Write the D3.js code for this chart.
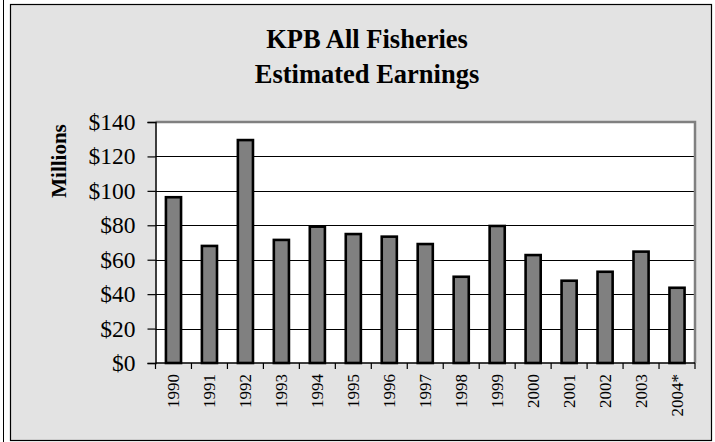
<!DOCTYPE html>
<html><head><meta charset="utf-8">
<script src="https://cdn.jsdelivr.net/npm/d3@7"></script>
<style>html,body{margin:0;padding:0;background:#fff;}svg{display:block;}</style>
</head><body>
<script>
const years = ["1990","1991","1992","1993","1994","1995","1996","1997","1998","1999","2000","2001","2002","2003","2004*"];
const earnings = [96.3,68,129.5,71.5,79.2,74.9,73.4,69.1,50.1,79.6,62.7,47.8,53.0,64.7,43.7];
const yTicks = [0,20,40,60,80,100,120,140];
const titleLines = ["KPB All Fisheries","Estimated Earnings"];
const yAxisLabel = "Millions";

const W=715,H=442;
const serif="'Liberation Serif','Times New Roman',serif";
const svg=d3.select("body").append("svg").attr("width",W).attr("height",H);
svg.append("line").attr("x1",3.5).attr("x2",3.5).attr("y1",0).attr("y2",H).attr("stroke","#000");
svg.append("rect").attr("x",10.5).attr("y",4.5).attr("width",701).attr("height",436)
  .attr("fill","#e3e3e3").attr("stroke","#000").attr("stroke-width",1.2);

const m={l:155.5,r:695,t:122,b:363};
const x=d3.scaleBand().domain(years).range([m.l,m.r]).paddingInner(0.58).paddingOuter(0.29);
const y=d3.scaleLinear().domain([0,140]).range([m.b,m.t]);

svg.append("rect").attr("x",m.l).attr("y",m.t).attr("width",m.r-m.l).attr("height",m.b-m.t).attr("fill","#fff");
svg.append("g").selectAll("line").data(yTicks.filter(d=>d>0&&d<140)).join("line")
  .attr("x1",m.l).attr("x2",m.r).attr("y1",d=>Math.round(y(d))+0.5).attr("y2",d=>Math.round(y(d))+0.5)
  .attr("stroke","#000").attr("stroke-width",1);
svg.append("path").attr("d",`M${m.l},${m.t}H${m.r}V${m.b}`).attr("fill","none").attr("stroke","#808080").attr("stroke-width",2.5);

svg.append("g").selectAll("rect").data(earnings).join("rect")
  .attr("x",(d,i)=>x(years[i])).attr("width",x.bandwidth())
  .attr("y",d=>y(d)).attr("height",d=>y(0)-y(d))
  .attr("fill","#808080").attr("stroke","#000").attr("stroke-width",2.6);

const ya=d3.axisLeft(y).tickValues(yTicks).tickSize(8).tickPadding(12).tickFormat(d=>"$"+d);
const gy=svg.append("g").attr("transform",`translate(${m.l},0)`).call(ya);
gy.select(".domain").attr("stroke","#000").attr("stroke-width",1.5);
gy.selectAll(".tick line").attr("stroke","#000").attr("stroke-width",1.2);
gy.selectAll("text").attr("font-family",serif).attr("font-size",23.5).attr("fill","#000");

const bounds=d3.range(years.length+1).map(i=>m.l+i*(m.r-m.l)/years.length);
svg.append("line").attr("x1",m.l).attr("x2",m.r).attr("y1",m.b).attr("y2",m.b).attr("stroke","#000").attr("stroke-width",1.5);
svg.append("g").selectAll("line").data(bounds).join("line")
  .attr("x1",d=>d).attr("x2",d=>d).attr("y1",m.b).attr("y2",m.b+6).attr("stroke","#000").attr("stroke-width",1.2);
svg.append("g").selectAll("text").data(years).join("text")
  .attr("transform",d=>`translate(${x(d)+x.bandwidth()/2+5.5},${m.b+11}) rotate(-90)`)
  .attr("text-anchor","end")
  .attr("font-family",serif).attr("font-size",17).attr("fill","#000")
  .text(d=>d);

svg.append("text").attr("transform",`translate(66,${161}) rotate(-90)`).attr("text-anchor","middle")
  .attr("font-family",serif).attr("font-weight","bold").attr("font-size",21)
  .text(yAxisLabel);

svg.append("g").selectAll("text").data(titleLines).join("text")
  .attr("x",367).attr("y",(d,i)=>48+i*35).attr("text-anchor","middle")
  .attr("font-family",serif).attr("font-weight","bold").attr("font-size",26.5)
  .text(d=>d);
</script>
</body></html>
